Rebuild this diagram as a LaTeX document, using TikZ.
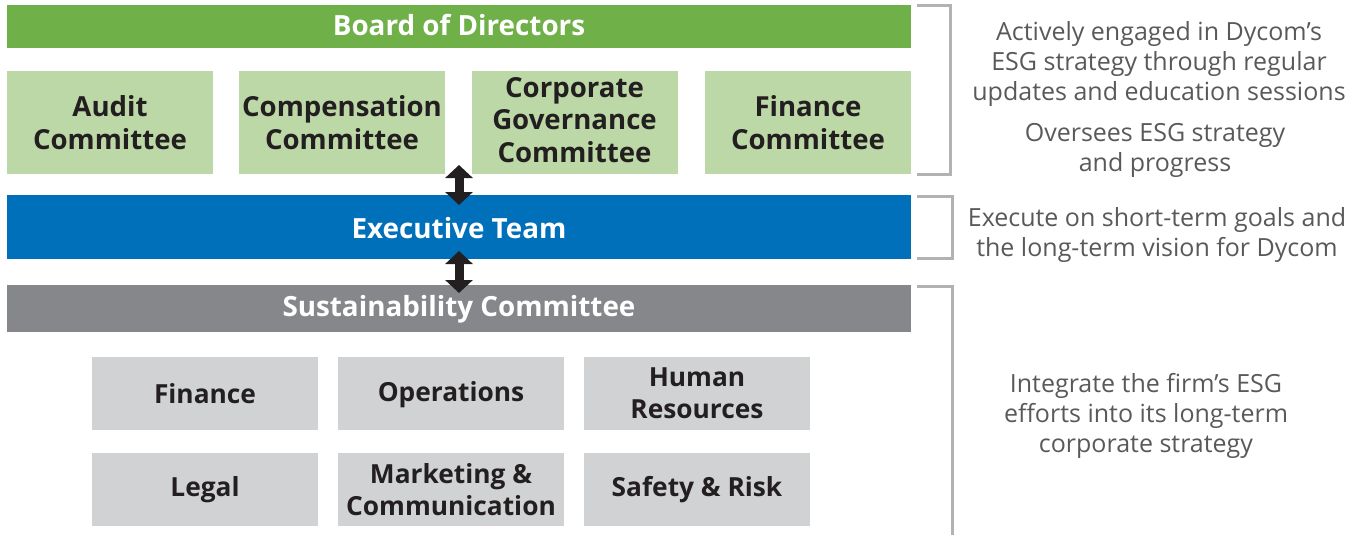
\documentclass[tikz,border=0pt]{standalone}
\usepackage{fontspec}
\setmainfont{Open Sans}
\usetikzlibrary{arrows.meta}

\definecolor{boardgreen}{HTML}{6FB048}
\definecolor{comgreen}{HTML}{BCD8A6}
\definecolor{execblue}{HTML}{0070BA}
\definecolor{susgray}{HTML}{86878A}
\definecolor{subgray}{HTML}{D1D2D4}
\definecolor{brackgray}{HTML}{B1B2B4}
\definecolor{notegray}{HTML}{58595B}
\definecolor{arrowdark}{HTML}{231F20}

\tikzset{
  bar/.style={minimum width=904pt, inner sep=0pt, text=white,
    font=\fontsize{27.8}{30}\selectfont\bfseries},
  combox/.style={fill=comgreen, minimum width=206pt, minimum height=103pt,
    inner sep=0pt, align=center, text=arrowdark,
    font=\fontsize{27.6}{32.5}\selectfont\bfseries},
  subbox/.style={fill=subgray, minimum width=226pt, minimum height=73pt,
    inner sep=0pt, align=center, text=arrowdark,
    font=\fontsize{26.3}{32}\selectfont\bfseries},
  note/.style={align=center, text=notegray,
    font=\fontsize{25}{30}\selectfont},
  brack/.style={brackgray, line width=3pt},
  updown/.style={arrowdark, line width=9pt,
    {Triangle[width=27pt,length=13pt]}-{Triangle[width=27pt,length=13pt]}}
}

\begin{document}
\begin{tikzpicture}[x=1pt,y=-1pt]
            \useasboundingbox (0,0) rectangle (1365,535);

            % Define the column centres
            \def\xa{110}   % audit
            \def\xb{342}   % compensation
            \def\xc{574.5} % corporate
            \def\xd{808}   % finance
            \def\xm{459}   % middle of the bars

            % Draw the board and its committees
            \fill[boardgreen] (7,5) rectangle (911,48);
            \node[bar] (board) at (\xm,25) {Board of Directors};
            \node[combox] (audit) at (\xa,122.5) {Audit\\Committee};
            \node[combox] (comp) at (\xb,122.5) {Compensation\\Committee};
            \node[combox, text depth=0pt] (corp) at (\xc,122.5) {};
            \node[align=center, text=arrowdark, font=\fontsize{27.6}{32.5}\selectfont\bfseries] (corptext) at (\xc,120) {Corporate\\Governance\\Committee};
            \node[combox] (fin) at (\xd,122.5) {Finance\\Committee};

            % Draw executive and sustainability bars
            \node[bar, fill=execblue, minimum height=64pt] (exec) at (\xm,227) {};
            \node[bar] (exectext) at (\xm,228) {Executive Team};
            \fill[susgray] (7,285) rectangle (911,332);
            \node[bar] (sus) at (\xm,309.5) {Sustainability Committee};

            % Draw functional groups
            \node[subbox] (finance) at (205,393.5) {Finance};
            \node[subbox] (ops) at (451,393.5) {};
            \node[font=\fontsize{26.3}{32}\selectfont\bfseries, text=arrowdark] (opstext) at (451,394.5) {Operations};
            \node[subbox] (hr) at (697,393.5) {Human\\Resources};
            \node[subbox] (legal) at (205,489.5) {Legal};
            \node[subbox] (mkt) at (451,489.5) {Marketing \&\\Communication};
            \node[subbox] (safety) at (697,489.5) {Safety \& Risk};

            % Draw double arrows
            \coordinate (upA) at (\xm,165);
            \coordinate (downA) at (\xm,205);
            \coordinate (upB) at (\xm,251);
            \coordinate (downB) at (\xm,293);
            \draw[updown] (upA) -- (downA);
            \draw[updown] (upB) -- (downB);

            % Draw brackets
            \draw[brack] (917,6) -- (950,6) -- (950,174) -- (917,174);
            \draw[brack] (917,196.5) -- (952.5,196.5) -- (952.5,258) -- (917,258);
            \draw[brack] (917,286) -- (952.5,286) -- (952.5,535);

            % Draw notes
            \node[note] (noteA) at (1159,64) {Actively engaged in Dycom’s\\ESG strategy through regular\\updates and education sessions};
            \node[note] (noteB) at (1155,150) {Oversees ESG strategy\\and progress};
            \node[note] (noteC) at (1157,235) {Execute on short-term goals and\\the long-term vision for Dycom};
            \node[note] (noteD) at (1146,416) {Integrate the firm’s ESG\\efforts into its long-term\\corporate strategy};
        \end{tikzpicture}
\end{document}
